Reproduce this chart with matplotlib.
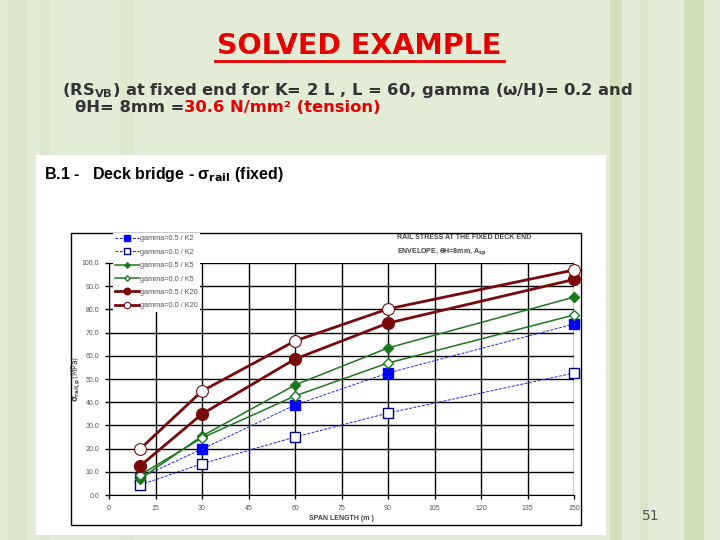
import matplotlib.pyplot as plt
from matplotlib.patches import Rectangle

# span lengths (m) where the envelope was evaluated
span = [10, 30, 60, 90, 150]

# rail stress sigma_rail (MPa)
k2_g05 = [7.5, 19.8, 38.8, 52.6, 73.7]
k2_g00 = [4.3, 13.5, 25.0, 35.3, 52.6]
k5_g05 = [6.9, 25.4, 47.4, 63.4, 85.3]
k5_g00 = [8.6, 24.6, 42.7, 56.9, 77.6]
k20_g05 = [12.5, 34.9, 58.6, 74.1, 92.9]
k20_g00 = [19.8, 44.8, 66.4, 80.2, 97.0]

labels = ["gamma=0.5 / K2", "gamma=0.0 / K2", "gamma=0.5 / K5",
          "gamma=0.0 / K5", "gamma=0.5 / K20", "gamma=0.0 / K20"]
xticks = [0, 15, 30, 45, 60, 75, 90, 105, 120, 135, 150]
yticks = [0, 10, 20, 30, 40, 50, 60, 70, 80, 90, 100]

W, H = 720, 540
fig = plt.figure(figsize=(7.2, 5.4), dpi=100)
fig.patch.set_facecolor("#e3ecd6")

plt.rcParams["mathtext.fontset"] = "custom"
plt.rcParams["mathtext.rm"] = "DejaVu Sans:bold"
plt.rcParams["mathtext.bf"] = "DejaVu Sans:bold"
plt.rcParams["mathtext.it"] = "DejaVu Sans:bold"

# full-figure axes in pixel coordinates for the slide decoration
bg = fig.add_axes([0, 0, 1, 1], zorder=0)
bg.set_xlim(0, W)
bg.set_ylim(H, 0)
bg.axis("off")

# faint bamboo stalks
for x0, w, c in [(8, 18, "#d9e5c8"), (40, 10, "#dce7cd"), (120, 14, "#dde8cf"),
                 (610, 12, "#d3e1bf"), (640, 8, "#d9e5c8"), (684, 20, "#cfdfba")]:
    bg.add_patch(Rectangle((x0, 0), w, H, color=c, lw=0))

# white chart picture and its black frame
bg.add_patch(Rectangle((36, 155), 570, 380, facecolor="white", edgecolor="none"))
bg.add_patch(Rectangle((71, 233), 510, 292, facecolor="none", edgecolor="black", lw=1.0))

# slide texts
bg.text(359, 46, "SOLVED EXAMPLE", color="#e60000", fontsize=20.5, fontweight="bold",
        ha="center", va="center", family="DejaVu Sans")
bg.plot([215, 504], [61, 61], color="#e60000", lw=2)
bg.text(62, 91, r"(RS$_{\mathrm{VB}}$) at fixed end for K= 2 L , L = 60, gamma ($\omega$/H)= 0.2 and",
        color="#333333", fontsize=11.8, fontweight="bold", ha="left", va="center",
        family="DejaVu Sans")
t1 = bg.text(75, 108, "θH= 8mm =", color="#333333", fontsize=11.8, fontweight="bold",
             ha="left", va="center", family="DejaVu Sans")
bg.annotate("30.6 N/mm² (tension)", xy=(1, 0), xycoords=t1, va="bottom", ha="left",
            color="#e60000", fontsize=11.8, fontweight="bold", family="DejaVu Sans")
bg.text(44, 174, r"B.1 -   Deck bridge - σ$_{\mathrm{rail}}$ (fixed)", fontsize=11.5,
        fontweight="bold", ha="left", va="center", family="Liberation Sans")
bg.text(651, 516, "51", fontsize=10, color="#555555", ha="center", va="center")

# the chart itself
ax = fig.add_axes([109 / W, 1 - 495 / H, (574 - 109) / W, (495 - 263) / H], zorder=1)
ax.patch.set_alpha(0)
ax.set_xlim(0, 150)
ax.set_ylim(0, 100)
ax.set_xticks(xticks)
ax.set_xticklabels([str(v) for v in xticks])
ax.set_yticks(yticks)
ax.set_yticklabels(["%.1f" % v for v in yticks])
ax.grid(True, color="black", lw=1.0)
ax.set_axisbelow(True)
for s in ["top", "right"]:
    ax.spines[s].set_visible(False)
ax.tick_params(labelsize=5, labelcolor="#555555", length=3, width=1, pad=4)
for lab in ax.get_xticklabels() + ax.get_yticklabels():
    lab.set_family("Liberation Sans")
ax.set_xlabel("SPAN LENGTH (m )", fontsize=5, fontweight="bold", color="#444444",
              family="Liberation Sans", labelpad=2)
ax.set_ylabel(r"$\sigma_{rail,p}$(MPa)", fontsize=5.5, color="#444444", labelpad=-1)

blue_dash = (0, (3, 1.5))
ax.plot(span, k2_g05, color="#2020ff", lw=0.7, ls=blue_dash, marker="s", ms=7,
        mfc="#0000ff", mec="#0000ff", label=labels[0], clip_on=False, zorder=3)
ax.plot(span, k2_g00, color="#2020ff", lw=0.7, ls=blue_dash, marker="s", ms=7,
        mfc="white", mec="#000080", label=labels[1], clip_on=False, zorder=3)
ax.plot(span, k5_g05, color="#1a7a1a", lw=1.1, marker="D", ms=5, mfc="#1a7a1a",
        mec="#1a7a1a", label=labels[2], clip_on=False, zorder=4)
ax.plot(span, k5_g00, color="#1a7a1a", lw=1.1, marker="D", ms=5, mfc="white",
        mec="#1a7a1a", label=labels[3], clip_on=False, zorder=4)
ax.plot(span, k20_g05, color="#7a0a0a", lw=2.0, marker="o", ms=8.5, mfc="#7a0a0a",
        mec="#7a0a0a", label=labels[4], clip_on=False, zorder=5)
ax.plot(span, k20_g00, color="#7a0a0a", lw=2.0, marker="o", ms=8.5, mfc="white",
        mec="#7a0a0a", mew=0.8, label=labels[5], clip_on=False, zorder=5)

leg = ax.legend(loc="upper left", bbox_to_anchor=(113 / W, 1 - 233 / H),
                bbox_transform=fig.transFigure, fontsize=5.3, frameon=True,
                facecolor="white", edgecolor="none", framealpha=1, fancybox=False,
                labelspacing=0.85, handlelength=3.2, handletextpad=0.2,
                borderpad=0.3, borderaxespad=0, markerscale=0.55)
leg.set_zorder(10)
for txt in leg.get_texts():
    txt.set_color("#555555")
    txt.set_family("Liberation Sans")

ax.text(0.62, 1.11, "RAIL STRESS AT THE FIXED DECK END", transform=ax.transAxes,
        fontsize=5, fontweight="bold", color="#444444", family="Liberation Sans",
        ha="left", va="center")
ax.text(0.62, 1.045, r"ENVELOPE, $\theta$H=8mm, A$_{sp}$", transform=ax.transAxes,
        fontsize=5, fontweight="bold", color="#444444", family="Liberation Sans",
        ha="left", va="center")

fig.savefig("out.png", dpi=100, facecolor=fig.get_facecolor())
